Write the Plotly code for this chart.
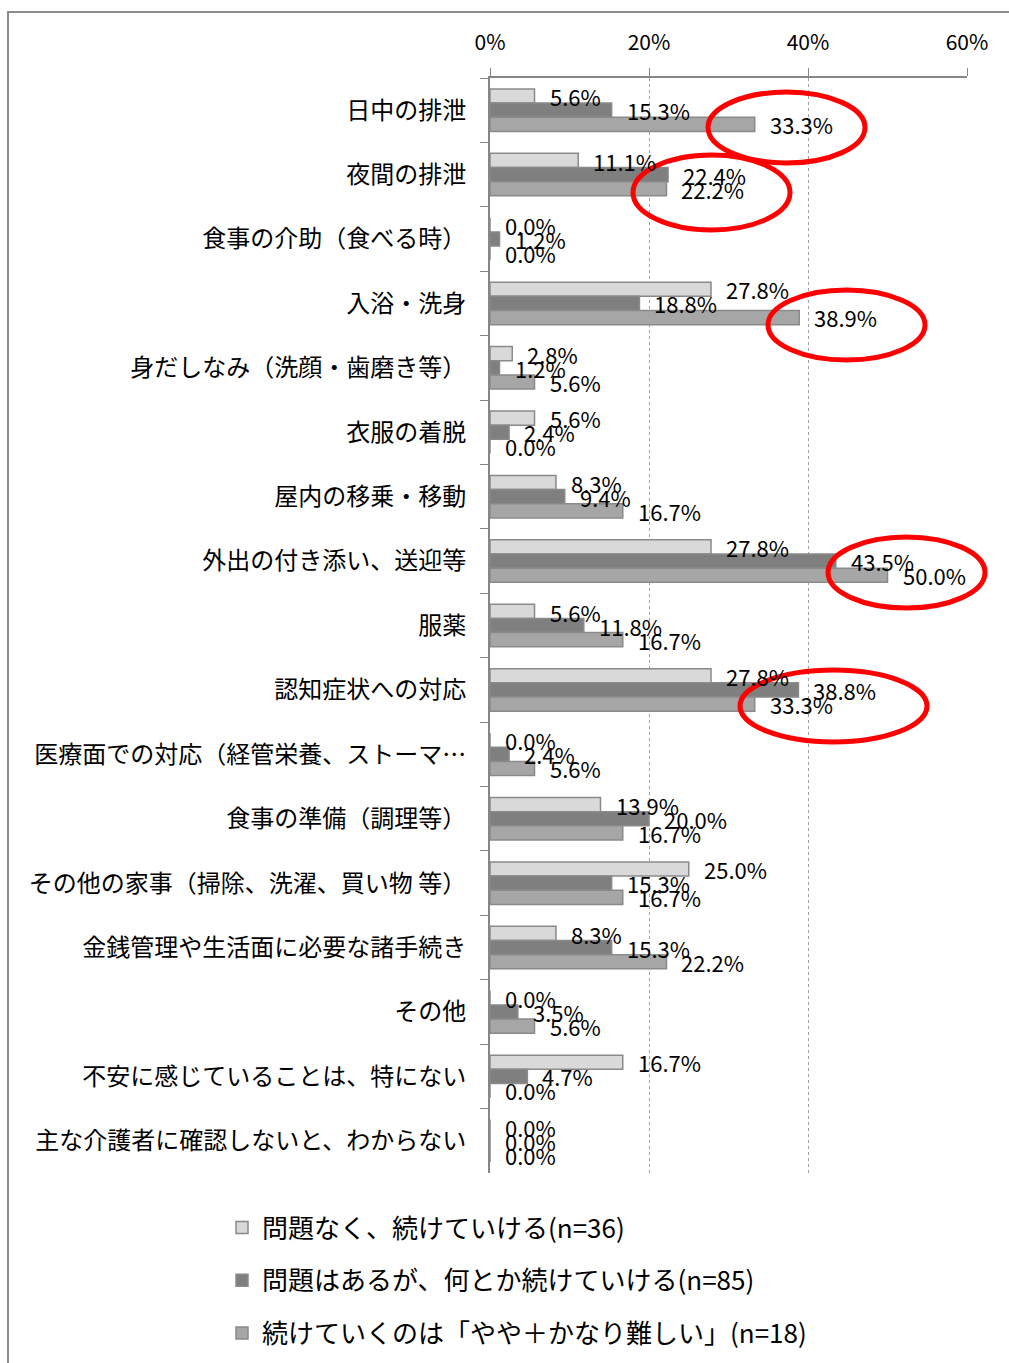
import plotly.graph_objects as go

# Care tasks (rows, top to bottom)
categories = [
    "日中の排泄",
    "夜間の排泄",
    "食事の介助（食べる時）",
    "入浴・洗身",
    "身だしなみ（洗顔・歯磨き等）",
    "衣服の着脱",
    "屋内の移乗・移動",
    "外出の付き添い、送迎等",
    "服薬",
    "認知症状への対応",
    "医療面での対応（経管栄養、ストーマ…",
    "食事の準備（調理等）",
    "その他の家事（掃除、洗濯、買い物 等）",
    "金銭管理や生活面に必要な諸手続き",
    "その他",
    "不安に感じていることは、特にない",
    "主な介護者に確認しないと、わからない",
]

series_names = [
    "問題なく、続けていける(n=36)",
    "問題はあるが、何とか続けていける(n=85)",
    "続けていくのは「やや＋かなり難しい」(n=18)",
]

values_ok = [5.6, 11.1, 0.0, 27.8, 2.8, 5.6, 8.3, 27.8, 5.6, 27.8, 0.0, 13.9, 25.0, 8.3, 0.0, 16.7, 0.0]
values_manage = [15.3, 22.4, 1.2, 18.8, 1.2, 2.4, 9.4, 43.5, 11.8, 38.8, 2.4, 20.0, 15.3, 15.3, 3.5, 4.7, 0.0]
values_hard = [33.3, 22.2, 0.0, 38.9, 5.6, 0.0, 16.7, 50.0, 16.7, 33.3, 5.6, 16.7, 16.7, 22.2, 5.6, 0.0, 0.0]

x_ticks = [0, 20, 40, 60]
x_tick_labels = ["0%", "20%", "40%", "60%"]

series_values = [values_ok, values_manage, values_hard]
fill_colors = ["#D9D9D9", "#7F7F7F", "#A6A6A6"]
label_yshift = [14, 0, -14]

FONT = "Noto Sans CJK JP"

fig = go.Figure()
for i, (name, vals) in enumerate(zip(series_names, series_values)):
    fig.add_trace(go.Bar(
        y=categories,
        x=vals,
        name=name,
        orientation="h",
        marker=dict(color=fill_colors[i], line=dict(color="#8A8A8A", width=1.5)),
        legendgroup=f"g{i}",
        hoverinfo="skip",
    ))

# Percentage labels just past each bar's end
annotations = []
for i, vals in enumerate(series_values):
    for cat, v in zip(categories, vals):
        annotations.append(dict(
            x=v, y=cat, xref="x", yref="y",
            text=f"{v:.1f}%",
            showarrow=False,
            xanchor="left", yanchor="middle",
            xshift=13, yshift=label_yshift[i],
            font=dict(family=FONT, size=22, color="#000000"),
        ))

# Plot area geometry in pixels, used to place the decorations in paper space
W, H = 1009, 1363
L, R, T, B = 490, 42, 78, 190
pw, ph = W - L - R, H - T - B


def px_x(p):
    return (p - L) / pw


def px_y(p):
    return (H - B - p) / ph


shapes = [
    # outer chart frame
    dict(type="rect", xref="paper", yref="paper",
         x0=px_x(8), x1=px_x(1014), y0=px_y(1368), y1=px_y(12),
         line=dict(color="#8C8C8C", width=2), fillcolor="rgba(0,0,0,0)", layer="below"),
]

# Red highlight ellipses (left, right, top, bottom in pixels)
ellipses = [
    (708, 865, 92, 163),
    (633, 790, 155, 230),
    (768, 925, 290, 360),
    (828, 985, 537, 608),
    (740, 927, 670, 742),
]
for x0, x1, y0, y1 in ellipses:
    shapes.append(dict(
        type="circle", xref="paper", yref="paper",
        x0=px_x(x0), x1=px_x(x1), y0=px_y(y1), y1=px_y(y0),
        line=dict(color="#FF0000", width=5), fillcolor="rgba(0,0,0,0)", layer="above",
    ))

fig.update_layout(
    width=W, height=H,
    margin=dict(l=L, r=R, t=T, b=B, autoexpand=False),
    paper_bgcolor="white",
    plot_bgcolor="white",
    barmode="group",
    bargap=0.34,
    bargroupgap=0,
    font=dict(family=FONT, color="#000000"),
    showlegend=True,
    legend=dict(
        x=px_x(222), y=px_y(1204), xanchor="left", yanchor="top",
        orientation="v", traceorder="grouped", tracegroupgap=16,
        font=dict(family=FONT, size=26, color="#000000"),
        bgcolor="rgba(0,0,0,0)",
    ),
    xaxis=dict(
        side="top",
        range=[0, 60],
        tickvals=x_ticks,
        ticktext=x_tick_labels,
        tickfont=dict(family=FONT, size=21, color="#000000"),
        ticks="outside", ticklen=8, tickcolor="#868686",
        ticklabelstandoff=10,
        showline=True, linecolor="#868686", linewidth=2,
        showgrid=True, gridcolor="#A0A0A0", griddash="dot", gridwidth=1,
        zeroline=False,
        fixedrange=True,
    ),
    yaxis=dict(
        type="category",
        categoryorder="array",
        categoryarray=categories,
        autorange="reversed",
        tickson="boundaries",
        ticks="outside", ticklen=8, tickcolor="#868686",
        ticklabelstandoff=17,
        tickfont=dict(family=FONT, size=24, color="#000000"),
        showline=True, linecolor="#868686", linewidth=2,
        showgrid=False,
        fixedrange=True,
    ),
    annotations=annotations,
    shapes=shapes,
)

fig.write_html("out.html")
